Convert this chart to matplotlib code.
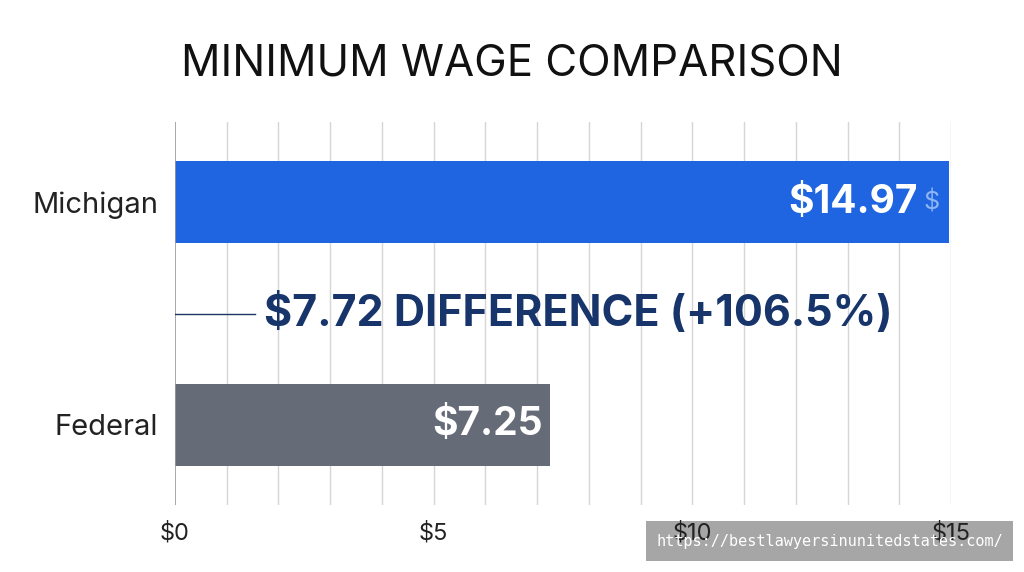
import matplotlib.pyplot as plt
from matplotlib.patches import Rectangle

categories = ["Federal", "Michigan"]
wages = [7.25, 14.97]
bar_colors = ["#666c77", "#1f64e0"]
value_labels = ["$7.25", "$14.97"]
tick_values = [0, 5, 10, 15]
tick_labels = ["$0", "$5", "$10", "$15"]
difference = wages[1] - wages[0]
pct = difference / wages[0] * 100

plt.rcParams['font.family'] = ['Inter', 'DejaVu Sans']

fig = plt.figure(figsize=(10.24, 5.72), dpi=100)
ax = fig.add_axes([175 / 1024, 67 / 572, 776 / 1024, 383 / 572])
ax.patch.set_visible(False)

ypos = [0, 2]
ax.barh(ypos, wages, height=0.74, color=bar_colors, zorder=2)
ax.set_xlim(0, 15)
ax.set_ylim(-0.72, 2.72)

# light vertical grid every dollar
for x in range(1, 16):
    ax.axvline(x, color="#d6d6d6", lw=1, zorder=0)
ax.axvline(0, color="#9a9a9a", lw=1.2, zorder=3)

for s in ax.spines.values():
    s.set_visible(False)

ax.set_yticks(ypos)
ax.set_yticklabels(categories, fontsize=21, color="#222222")
ax.set_xticks(tick_values)
ax.set_xticklabels(tick_labels, fontsize=17, color="#222222")
ax.tick_params(length=0)
ax.tick_params(axis="y", pad=12)
ax.tick_params(axis="x", pad=12)

ax.text(wages[1] - 0.62, 2, value_labels[1], ha="right", va="center",
        fontsize=28, fontweight="bold", color="white", zorder=4)
ax.text(wages[1] - 0.2, 2, "$", ha="right", va="center",
        fontsize=18, color="#8fb6f2", zorder=4)
ax.text(wages[0] - 0.15, 0, value_labels[0], ha="right", va="center",
        fontsize=28, fontweight="bold", color="white", zorder=4)

# difference callout
ax.plot([0, 1.55], [1, 1], color="#1b3563", lw=1, zorder=3)
ax.text(1.72, 1, f"${difference:.2f} DIFFERENCE (+{pct:.1f}%)", ha="left",
        va="center", fontsize=31, fontweight="bold", color="#17356b", zorder=4)

fig.text(0.5, 0.888, "MINIMUM WAGE COMPARISON", ha="center", va="center",
         fontsize=31.5, color="#111111")

# watermark: grey box under the axes, white text on top of everything
fig.patches.append(Rectangle((646 / 1024, 11 / 572), 367 / 1024, 40 / 572,
                             transform=fig.transFigure, fc="#a6a6a6",
                             ec="none", zorder=-1))
fig.text(0.810, 0.054, "https://bestlawyersinunitedstates.com/", ha="center",
         va="center", fontsize=11, family="DejaVu Sans Mono", color="white",
         zorder=5)

fig.savefig("out.png", dpi=100)
